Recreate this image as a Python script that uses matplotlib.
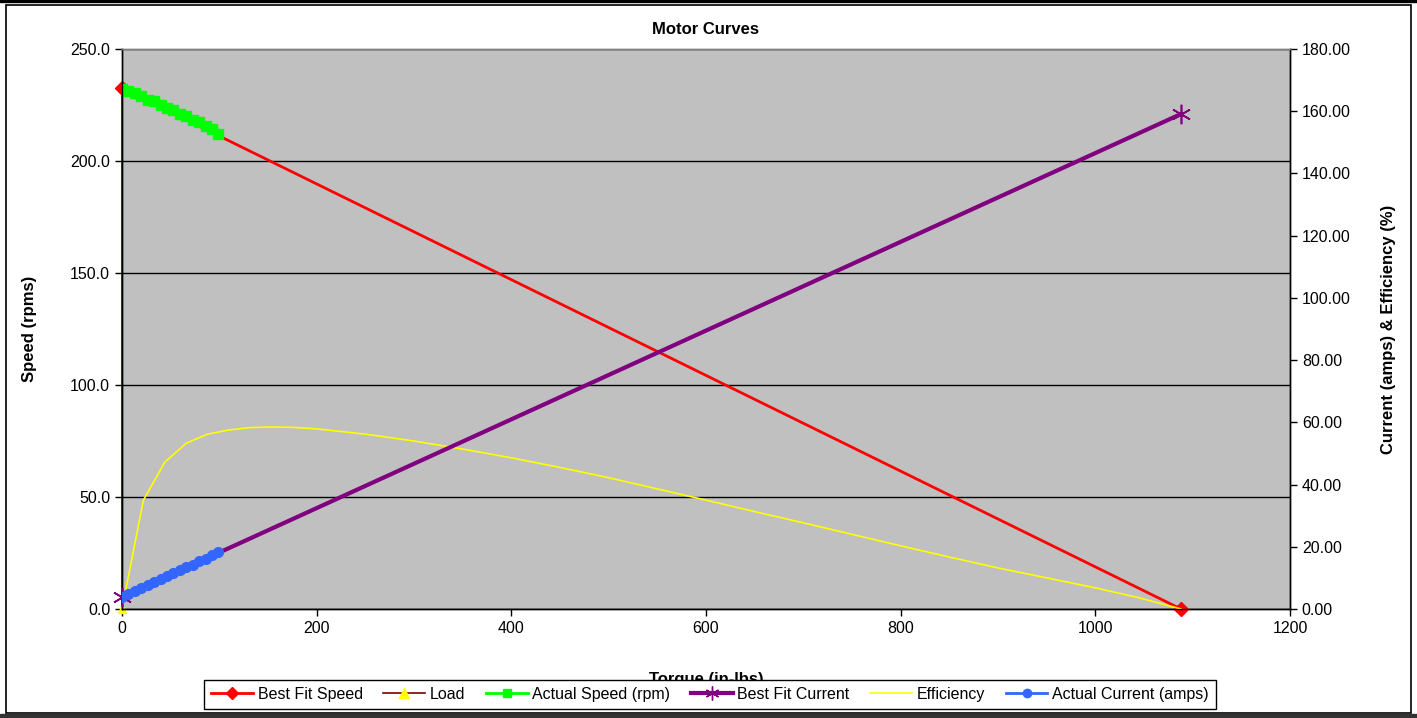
import matplotlib
matplotlib.use("Agg")
import matplotlib.pyplot as plt
from matplotlib.ticker import FormatStrFormatter, MultipleLocator
from matplotlib.lines import Line2D
from matplotlib.patches import Rectangle

plt.rcParams['font.family'] = ['Liberation Sans', 'DejaVu Sans']

# ---- data ----
fit_speed_torque = [0, 1088]
fit_speed_rpm = [232.5, 0.0]

load_torque = [0, 0]
load_rpm = [0.0, 232.5]

actual_torque = [0, 6.6, 13.2, 19.8, 26.4, 33.0, 39.6, 46.2, 52.8, 59.4,
                 66.0, 72.6, 79.2, 85.8, 92.4, 99.0]
actual_speed = [232.2, 231.4, 230.2, 228.9, 227.3, 226.6, 225.0, 223.6, 222.6,
                221.2, 220.0, 218.4, 217.2, 215.6, 214.3, 212.0]
actual_current = [4.0, 4.9, 5.9, 6.8, 7.8, 8.7, 9.6, 10.6, 11.5, 12.5,
                  13.4, 14.3, 15.3, 16.2, 17.2, 18.3]

fit_current_torque = [0, 1088]
fit_current_amps = [3.9, 159.1]

eff_torque = [0, 22, 44, 66, 88, 109, 131, 152, 175, 200, 250, 300, 350, 400,
              450, 500, 550, 600, 650, 700, 750, 800, 850, 900, 950, 1000, 1045, 1088]
eff_pct = [0.0, 35.0, 47.2, 53.3, 56.2, 57.5, 58.3, 58.5, 58.4, 57.9, 56.2, 54.0,
           51.4, 48.6, 45.5, 42.2, 38.6, 35.0, 31.3, 27.7, 24.0, 20.3, 16.7, 13.2,
           10.0, 6.8, 3.6, 0.0]

x_ticks = [0, 200, 400, 600, 800, 1000, 1200]

# ---- figure ----
W, H = 1417, 718
fig = plt.figure(figsize=(W / 100, H / 100), dpi=100)
fig.patch.set_facecolor('white')

left, right, top, bottom = 122 / W, 1290 / W, 1 - 49 / H, 1 - 609 / H
ax = fig.add_axes([left, bottom, right - left, top - bottom])
ax.set_facecolor('#C0C0C0')
ax2 = ax.twinx()

ax.set_xlim(0, 1200)
ax.set_ylim(0, 250)
ax2.set_ylim(0, 180)
ax.set_xticks(x_ticks)
ax.yaxis.set_major_locator(MultipleLocator(50))
ax2.yaxis.set_major_locator(MultipleLocator(20))
ax.yaxis.set_major_formatter(FormatStrFormatter('%.1f'))
ax2.yaxis.set_major_formatter(FormatStrFormatter('%.2f'))

ax.grid(axis='y', color='black', linewidth=1.0)
ax.set_axisbelow(True)

for a in (ax, ax2):
    a.tick_params(direction='out', length=5, width=1, labelsize=11.5, colors='black')
    for s in a.spines.values():
        s.set_color('#808080')
        s.set_linewidth(1)
for name in ('left', 'bottom', 'right'):
    ax2.spines[name].set_color('black')
    ax.spines[name].set_color('black')

# left axis series
l_fit, = ax.plot(fit_speed_torque, fit_speed_rpm, color='#FF0000', lw=2,
                 marker='D', ms=7, mfc='#FF0000', mec='#FF0000', zorder=3,
                 label='Best Fit Speed', clip_on=False)
l_load, = ax.plot(load_torque, load_rpm, color='#800000', lw=1.2,
                  marker='^', ms=6, mfc='#FFFF00', mec='#FFFF00', zorder=2.5,
                  label='Load', clip_on=False)
l_act, = ax.plot(actual_torque, actual_speed, color='#00FF00', lw=2,
                 marker='s', ms=7, mfc='#00FF00', mec='#00FF00', zorder=5,
                 label='Actual Speed (rpm)')

# right axis series
l_fc, = ax2.plot(fit_current_torque, fit_current_amps, color='#800080', lw=3,
                 marker=(6, 2, 0), ms=14, mec='#800080', mew=1.2, zorder=3,
                 label='Best Fit Current', clip_on=False)
l_eff, = ax2.plot(eff_torque, eff_pct, color='#FFFF00', lw=1.2, zorder=2,
                  label='Efficiency')
l_ac, = ax2.plot(actual_torque, actual_current, color='#3366FF', lw=3,
                 marker='o', ms=7, mfc='#3366FF', mec='#3366FF', zorder=5,
                 label='Actual Current (amps)')

ax.set_ylabel('Speed (rpms)', fontsize=12, fontweight='bold', labelpad=24)
ax2.set_ylabel('Current (amps) & Efficiency (%)', fontsize=12, fontweight='bold',
               labelpad=22)
ax.set_xlabel('Torque (in-lbs)', fontsize=12, fontweight='bold', labelpad=26)

fig.text(706 / W, 1 - 30 / H, 'Motor Curves', ha='center', va='center',
         fontsize=12, fontweight='bold')

# legend
leg_handles = [
    Line2D([], [], color='#FF0000', lw=2, marker='D', ms=6, mfc='#FF0000', mec='#FF0000'),
    Line2D([], [], color='#800000', lw=1.2, marker='^', ms=7, mfc='#FFFF00', mec='#FFFF00'),
    Line2D([], [], color='#00FF00', lw=2, marker='s', ms=6, mfc='#00FF00', mec='#00FF00'),
    Line2D([], [], color='#800080', lw=3, marker=(6, 2, 0), ms=10, mec='#800080'),
    Line2D([], [], color='#FFFF00', lw=1.2),
    Line2D([], [], color='#3366FF', lw=2, marker='o', ms=6, mfc='#3366FF', mec='#3366FF'),
]
leg_labels = ['Best Fit Speed', 'Load', 'Actual Speed (rpm)', 'Best Fit Current',
              'Efficiency', 'Actual Current (amps)']
leg = fig.legend(leg_handles, leg_labels, loc='center', ncol=6,
                 bbox_to_anchor=(710 / W, 1 - 694.5 / H), fontsize=11.5,
                 frameon=True, fancybox=False, edgecolor='black',
                 handlelength=2.6, handletextpad=0.3, columnspacing=1.3,
                 borderpad=0.45)
leg.get_frame().set_linewidth(1)
leg.get_frame().set_facecolor('white')
leg.get_frame().set_alpha(1)
leg.set_zorder(10)

# outer chart frame
fig.patches.append(Rectangle((6 / W, 1 - 713 / H), 1405 / W, 708 / H,
                             transform=fig.transFigure, fill=False,
                             edgecolor='black', linewidth=1.2, zorder=0))
fig.patches.append(Rectangle((0, 1 - 2 / H), 1, 2 / H, transform=fig.transFigure,
                             color='black', zorder=0))
fig.patches.append(Rectangle((0, 0), 1, 4 / H, transform=fig.transFigure,
                             color='#333333', zorder=0))

fig.savefig('out.png', dpi=100)
